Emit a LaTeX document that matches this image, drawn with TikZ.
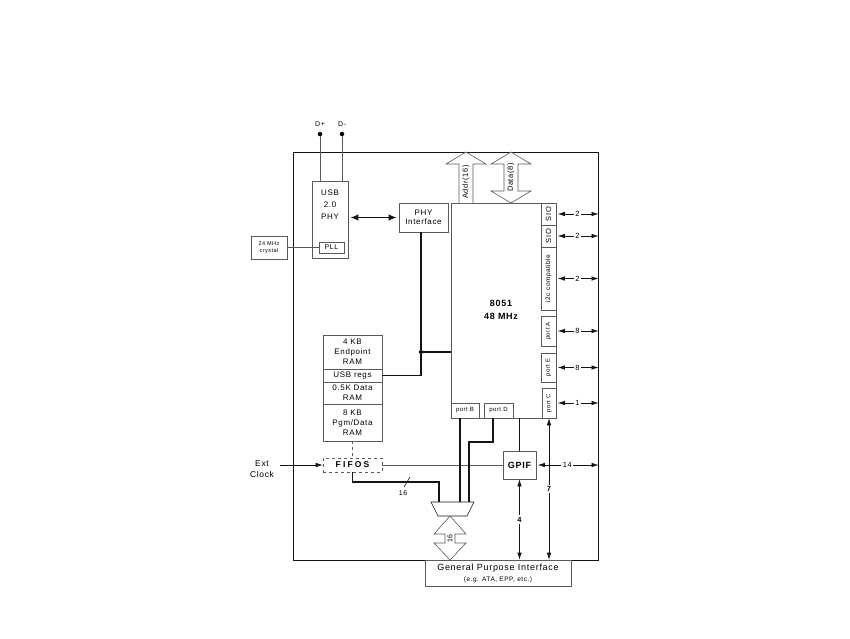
\documentclass[tikz,border=0pt]{standalone}
\usepackage{fontspec}
\setmainfont[LetterSpace=8]{Liberation Sans}
\usetikzlibrary{arrows.meta}
\definecolor{linegray}{RGB}{90,90,90}
\definecolor{darkline}{RGB}{20,20,20}
\newcommand\fsz[1]{\fontsize{#1}{#1}\selectfont}
\tikzset{
  box/.style={draw=linegray, line width=0.6pt, inner sep=0pt, align=center, font=\fsz{8}},
  bus/.style={draw=darkline, line width=1.1pt},
  thinln/.style={draw=linegray, line width=0.6pt},
  dbl/.style={draw=darkline, line width=0.6pt, {Latex[length=7pt,width=4.5pt]}-{Latex[length=7pt,width=4.5pt]}},
  sgl/.style={draw=darkline, line width=0.6pt, -{Latex[length=7pt,width=4.5pt]}},
  blk/.style={draw=linegray, line width=0.6pt, fill=white},
  lbl/.style={fill=white, inner sep=1.5pt, font=\fsz{7.5}},
  dot/.style={circle, fill=black, inner sep=0pt, minimum size=4.5pt},
}
\begin{document}
\begin{tikzpicture}[x=1pt,y=-1pt]
\useasboundingbox (0,0) rectangle (850,638);
% outer chip
\node[draw=darkline, line width=1pt, minimum width=305pt, minimum height=408pt, inner sep=0pt] (chip) at (445.5,356) {};
% GPI box
\node[box, fill=white, minimum width=146pt, minimum height=26pt] (gpi) at (498,573) {};
\node[font=\fsz{9}] (gpit) at (498,568) {General Purpose Interface};
\node[font=\fsz{6.5}] (gpis) at (498,580) {(e.g. ATA, EPP, etc.)};
% D+ D-
\node[dot] (dp) at (320,134) {};
\node[dot] (dm) at (342,134) {};
\node[font=\fsz{7}] (dpl) at (320,124) {D+};
\node[font=\fsz{7}] (dml) at (342,124) {D-};
% USB PHY
\node[box, minimum width=36pt, minimum height=77pt] (usb) at (330,219.5) {};
\node[font=\fsz{8}, align=center] (usbt) at (330,205) {USB\\[4pt]2.0\\[4pt]PHY};
\node[box, minimum width=25pt, minimum height=11pt, font=\fsz{7}] (pll) at (331.5,247.5) {PLL};
\node[box, minimum width=36pt, minimum height=23pt, font=\fsz{5.5}] (xtal) at (269,247.5) {24 MHz\\[1pt]crystal};
\draw[thinln] (dp) -- (dp |- usb.north);
\draw[thinln] (dm) -- (dm |- usb.north);
\draw[thinln] (xtal.east) -- (pll.west);
% PHY interface
\node[box, minimum width=49pt, minimum height=29pt] (phyif) at (423.5,217.5) {PHY\\[1.5pt]Interface};
\draw[draw=darkline, line width=1.8pt, {Latex[length=8pt,width=6.5pt]}-{Latex[length=8pt,width=6.5pt]}, shorten <=2pt, shorten >=2pt] (usb.east |- phyif.west) -- (phyif.west);
% 8051
\node[box, minimum width=105pt, minimum height=215pt] (cpu) at (503.5,310.5) {};
\node[font=\bfseries\fsz{9}, align=center] (cput) at (501,310) {8051\\[4pt]48 MHz};
% side boxes
\node[box, minimum width=15pt, minimum height=22pt, font=\fsz{7.5}] (sio1) at (548.5,214) {\rotatebox{90}{SIO}};
\node[box, minimum width=15pt, minimum height=22pt, font=\fsz{7.5}] (sio2) at (548.5,236) {\rotatebox{90}{SIO}};
\node[box, minimum width=15pt, minimum height=63pt, font=\fsz{6.5}] (i2c) at (548.5,278.5) {\rotatebox{90}{i2c compatible}};
\node[box, minimum width=15pt, minimum height=30pt, font=\fsz{6}] (porta) at (548.5,331) {\rotatebox{90}{port A}};
\node[box, minimum width=15pt, minimum height=29pt, font=\fsz{6}] (porte) at (548.5,367.5) {\rotatebox{90}{port E}};
\node[box, minimum width=14pt, minimum height=30pt, font=\fsz{6}] (portc) at (549,403) {\rotatebox{90}{port C}};
\node[box, minimum width=28pt, minimum height=15pt, font=\fsz{6}] (portb) at (465,410.5) {port B};
\node[box, minimum width=29pt, minimum height=15pt, font=\fsz{6}] (portd) at (498.5,410.5) {port D};
\foreach \n/\t in {sio1/2, sio2/2, i2c/2, porta/8, porte/8, portc/1}{
  \draw[dbl, shorten <=1.5pt] (\n.east) -- (\n.east -| chip.east) node[lbl, midway] {\t};
}
% Addr / Data block arrows
\draw[blk] (459,203) -- (459,164) -- (446,164) -- (466,152) -- (486,164) -- (473,164) -- (473,203);
\node[rotate=90, font=\fsz{7.5}] (addr) at (466,182) {Addr(16)};
\draw[blk] (504,191) -- (504,164) -- (491,164) -- (511,152) -- (531,164) -- (518,164) -- (518,191) -- (531,191) -- (511,203) -- (491,191) -- cycle;
\node[rotate=90, font=\fsz{7.5}] (data) at (511,177.5) {Data(8)};
% memory stack
\node[box, minimum width=59pt, minimum height=34pt] (ep) at (352.5,352) {4 KB\\[2pt]Endpoint\\[2pt]RAM};
\node[box, minimum width=59pt, minimum height=13pt] (regs) at (352.5,375.5) {USB regs};
\node[box, minimum width=59pt, minimum height=22pt] (dram) at (352.5,393) {0.5K Data\\[2pt]RAM};
\node[box, minimum width=59pt, minimum height=37pt] (pram) at (352.5,422.5) {8 KB\\[2pt]Pgm/Data\\[2pt]RAM};
% bus
\node[dot, minimum size=4pt] (j) at (421,352) {};
\draw[bus] (j |- phyif.south) -- (j);
\draw[bus] (j) -- (j -| cpu.west);
\draw[bus] (regs.east) -| (j);
% FIFOS
\node[box, dashed, minimum width=59pt, minimum height=14pt, font=\bfseries\fsz{8.5}] (fifos) at (352.5,465) {\addfontfeature{LetterSpace=25}FIFOS};
\draw[thinln, dashed] (pram.south) -- (fifos.north);
\node[font=\fsz{8.5}, align=center] (ext) at (262,469) {Ext\\[3pt]Clock};
\coordinate (extin) at (280,465);
\draw[sgl] (extin) -- (fifos.west);
% GPIF
\node[box, minimum width=33pt, minimum height=28pt, font=\bfseries\fsz{9}] (gpif) at (519.5,465) {GPIF};
\draw[thinln] (fifos.east) -- (gpif.west);
\draw[bus] (gpif.north) -- (gpif.north |- cpu.south);
\draw[dbl, shorten <=1.5pt] (gpif.east) -- (gpif.east -| chip.east) node[lbl, midway] {14};
\draw[dbl] (gpif.south) -- (gpif.south |- gpi.north) node[lbl, midway, font=\bfseries\fsz{7.5}] {4};
\draw[dbl] (portc.south) -- (portc.south |- gpi.north) node[lbl, midway, font=\bfseries\fsz{7.5}] {7};
% mux
\coordinate (mtl) at (431,502);
\coordinate (mtr) at (474,502);
\coordinate (mbr) at (467,516);
\coordinate (mbl) at (438,516);
\draw[thinln, draw=darkline] (mtl) -- (mtr) -- (mbr) -- (mbl) -- cycle;
\coordinate (bend) at (439,482);
\draw[bus] (fifos.south) |- (bend) -- (bend |- mtl);
\draw[thinln, draw=darkline] (404,487) -- (410,477);
\node[font=\fsz{7}] (w16) at (403,493) {16};
\coordinate (pbo) at (460,418);
\draw[bus] (pbo) -- (pbo |- mtl);
\coordinate (pdo) at (493,418);
\coordinate (pdb) at (469,442);
\draw[bus] (pdo) |- (pdb) -- (pdb |- mtl);
% 16 block arrow
\draw[blk] (445,534) -- (434,534) -- (450,516) -- (466,534) -- (455,534) -- (455,543) -- (466,543) -- (450,560) -- (434,543) -- (445,543) -- cycle;
\node[rotate=90, font=\fsz{7}] (m16) at (450,538.5) {16};
\end{tikzpicture}
\end{document}
